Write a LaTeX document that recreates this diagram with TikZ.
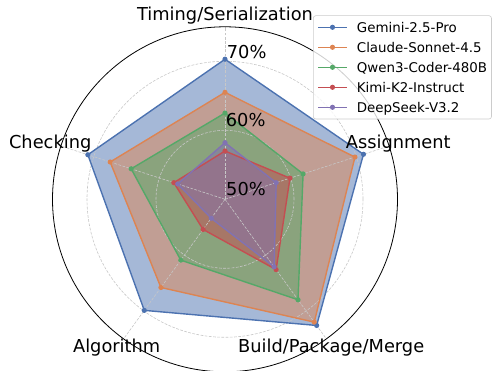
\documentclass[tikz,border=0pt]{standalone}
\usepackage{fontspec}
\setmainfont{DejaVu Sans}
\usetikzlibrary{positioning, calc}

\definecolor{gemini}{HTML}{4C72B0}
\definecolor{claude}{HTML}{DD8452}
\definecolor{qwen}{HTML}{55A868}
\definecolor{kimi}{HTML}{C44E52}
\definecolor{deepseek}{HTML}{8172B3}

\newcommand{\radscale}{6.9} % pt per percent, 50% at the centre
\newcommand{\modeldata}{gemini/70.3/71.1/72.6/69.9/70.9, claude/65.5/69.8/72.0/65.8/67.5,
  qwen/62.5/61.9/68.0/60.9/64.3, kimi/57.0/59.9/62.6/55.4/57.8, deepseek/58.2/57.8/62.1/53.4/57.2}

\begin{document}
\begin{tikzpicture}[x=1pt, y=1pt,
  gridline/.style={draw=black!22, dash pattern=on 2.8pt off 1.4pt, line width=0.6pt},
  model/.style={draw=#1, line width=1.4pt, line join=round},
  axislabel/.style={font=\fontsize{17.8}{20}\selectfont, anchor=base, inner sep=0pt},
  ticklabel/.style={font=\fontsize{17.8}{20}\selectfont, anchor=base west, inner sep=0pt},
  legendtext/.style={font=\fontsize{13.4}{15}\selectfont, anchor=base west, inner sep=0pt}]

\useasboundingbox (-225,-171.7) rectangle (267,199.3);
\coordinate (O) at (0,0);

% filled areas
\foreach \c/\va/\vb/\vc/\vd/\ve in \modeldata
  \fill[\c, fill opacity=0.5] (90:{(\va-50)*\radscale}) -- (18:{(\vb-50)*\radscale})
    -- (-54:{(\vc-50)*\radscale}) -- (-126:{(\vd-50)*\radscale})
    -- (162:{(\ve-50)*\radscale}) -- cycle;

% grid
\foreach \r in {10,20} \draw[gridline] (O) circle ({\r*\radscale});
\foreach \a in {90,18,-54,-126,162} \draw[gridline] (O) -- (\a:172.5);

% outlines and markers
\foreach \c/\va/\vb/\vc/\vd/\ve in \modeldata {
  \draw[model=\c] (90:{(\va-50)*\radscale}) -- (18:{(\vb-50)*\radscale})
    -- (-54:{(\vc-50)*\radscale}) -- (-126:{(\vd-50)*\radscale})
    -- (162:{(\ve-50)*\radscale}) -- cycle;
  \foreach \a/\v in {90/\va, 18/\vb, -54/\vc, -126/\vd, 162/\ve}
    \fill[\c] (\a:{(\v-50)*\radscale}) circle (2.6);
}
\draw[line width=0.8pt] (O) circle (172.5);

% tick labels
\node[ticklabel] (t50) at (1,3.6) {50\%};
\node[ticklabel] (t60) at (0.7,72.6) {60\%};
\node[ticklabel] (t70) at (1.7,141) {70\%};

% axis labels
\node[axislabel] (timing) at (0,178.6) {Timing/Serialization};
\node[axislabel] (assign) at (173.3,51) {Assignment};
\node[axislabel] (build) at (106.2,-153) {Build/Package/Merge};
\node[axislabel] (algo) at (-108.3,-153) {Algorithm};
\node[axislabel] (check) at (-174.8,51) {Checking};

% legend
\draw[draw=black!20, fill=white, fill opacity=0.8, rounded corners=2.5pt, line width=0.6pt]
  (88.3,183.6) rectangle (266.5,80.3);
\foreach \c/\t [count=\i] in {gemini/Gemini-2.5-Pro, claude/Claude-Sonnet-4.5,
    qwen/Qwen3-Coder-480B, kimi/Kimi-K2-Instruct, deepseek/DeepSeek-V3.2} {
  \coordinate (l\i) at (93.3,{192-20*\i});
  \draw[\c, line width=1.4pt] (l\i) -- ++(28.4,0);
  \fill[\c] ($(l\i)+(14.2,0)$) circle (2.6);
  \node[legendtext] (lt\i) at ($(l\i)+(38.4,-5)$) {\t};
}
\end{tikzpicture}
\end{document}
